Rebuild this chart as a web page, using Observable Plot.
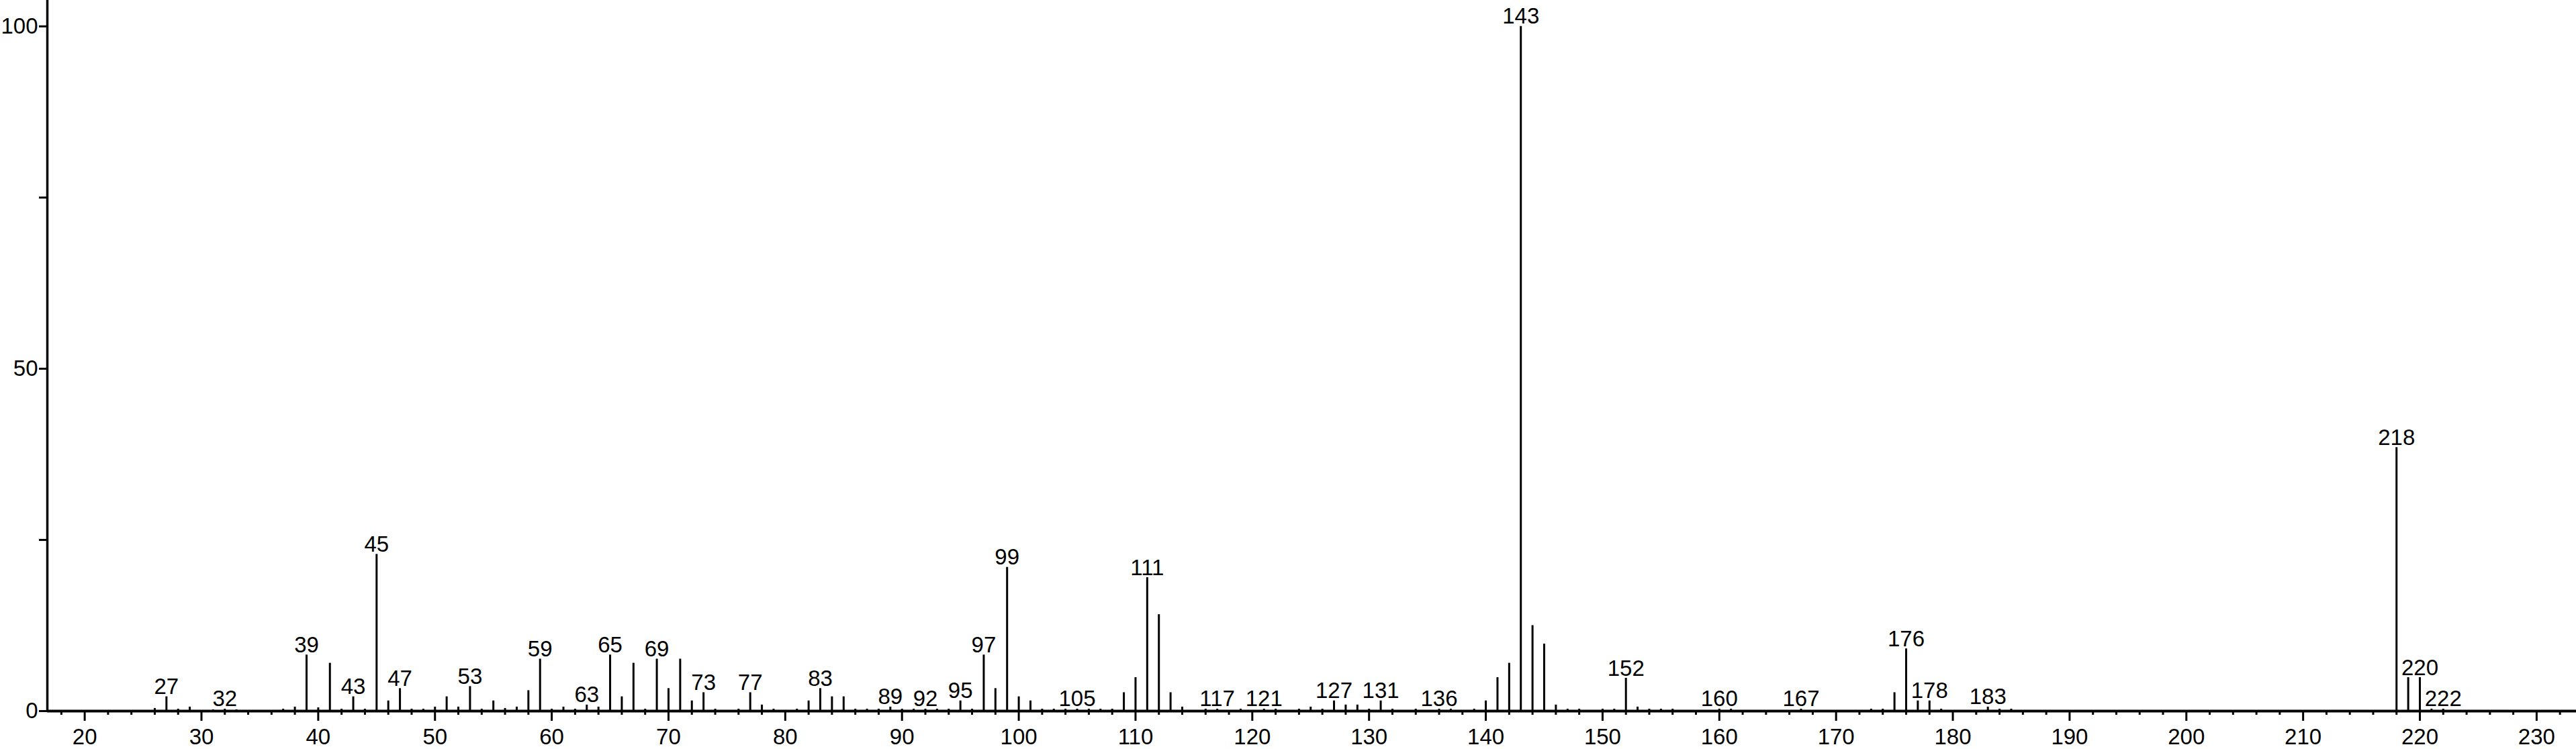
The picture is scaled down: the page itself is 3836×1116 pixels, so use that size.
<!DOCTYPE html>
<html>
<head>
<meta charset="utf-8">
<script src="https://cdn.jsdelivr.net/npm/d3@7"></script>
<script src="https://cdn.jsdelivr.net/npm/@observablehq/plot@0.6"></script>
<style>
  html, body { margin: 0; padding: 0; background: #fff; }
  #chart svg { display: block; }
</style>
</head>
<body>
<div id="chart"></div>
<script>
// m/z values and relative intensities (%)
const mz = [26,27,28,29,31,32,33,37,38,39,40,41,42,43,44,45,46,47,48,49,50,51,52,53,54,55,56,57,58,59,60,61,62,63,64,65,66,67,68,69,70,71,72,73,74,76,77,78,79,81,82,83,84,85,86,87,88,89,90,91,92,93,94,95,96,97,98,99,100,101,102,103,104,105,106,107,108,109,110,111,112,113,114,116,117,119,121,122,124,125,126,127,128,129,130,131,132,134,136,137,139,140,141,142,143,144,145,146,147,148,150,151,152,153,154,155,156,160,161,167,173,174,175,176,177,178,179,183,184,185,218,219,220,221,222];
const intensity = [0.4,2.1,0.3,0.6,0.2,0.3,0.2,0.3,0.6,8.2,0.5,7.0,0.3,2.1,0.3,22.9,1.5,3.3,0.3,0.3,0.6,2.1,0.6,3.6,0.3,1.5,0.4,0.6,3.0,7.6,0.3,0.6,0.3,0.9,0.6,8.2,2.1,7.0,0.3,7.6,3.3,7.6,1.5,2.7,0.3,0.3,2.7,0.9,0.3,0.3,1.5,3.3,2.1,2.1,0.3,0.3,0.3,0.6,0.3,0.3,0.3,0.3,0.3,1.5,0.3,8.2,3.3,21.0,2.1,1.5,0.3,0.3,0.3,0.3,0.3,0.3,0.3,2.7,4.9,19.5,14.1,2.7,0.6,0.3,0.3,0.3,0.3,0.3,0.3,0.6,0.3,1.5,0.9,0.9,0.3,1.5,0.3,0.3,0.3,0.3,0.3,1.5,4.9,7.0,100,12.5,9.8,0.9,0.3,0.3,0.3,0.3,4.8,0.6,0.3,0.3,0.3,0.3,0.3,0.3,0.3,0.3,2.7,9.1,1.5,1.5,0.3,0.6,0.3,0.3,38.5,4.9,4.9,0.3,0.3];
// peaks carrying an m/z annotation
const labeledMz = [27,32,39,43,45,47,53,59,63,65,69,73,77,83,89,92,95,97,99,105,111,117,121,127,131,136,143,152,160,167,176,178,183,218,220,222];
// axis ticks
const xMajorTicks = [20,30,40,50,60,70,80,90,100,110,120,130,140,150,160,170,180,190,200,210,220,230];
const xMinorTicks = [18,22,24,26,28,32,34,36,38,42,44,46,48,52,54,56,58,62,64,66,68,72,74,76,78,82,84,86,88,92,94,96,98,102,104,106,108,112,114,116,118,122,124,126,128,132,134,136,138,142,144,146,148,152,154,156,158,162,164,166,168,172,174,176,178,182,184,186,188,192,194,196,198,202,204,206,208,212,214,216,218,222,224,226,228,232];
const yMajorTicks = [0, 50, 100];
const yMinorTicks = [25, 75];

const peaks = mz.map((m, i) => ({mz: m, intensity: intensity[i]}));
const labeled = peaks.filter(d => labeledMz.includes(d.mz));

const xMin = 16.8, xMax = 233.4;
const font = "'Liberation Sans', Arial, Helvetica, sans-serif";

const chart = Plot.plot({
  width: 3836,
  height: 1116,
  marginLeft: 70,
  marginRight: 0,
  marginTop: 0,
  marginBottom: 57,
  style: {fontFamily: font, background: "#fff", color: "#000"},
  x: {domain: [xMin, xMax]},
  y: {domain: [0, 103.8]},
  marks: [
    // peaks
    Plot.ruleX(peaks, {x: "mz", y1: 0, y2: "intensity", stroke: "#000", strokeWidth: 3}),
    // minor x ticks
    Plot.axisX({ticks: xMinorTicks, tickSize: 6, text: null, strokeWidth: 3, label: null}),
    // major x ticks + labels
    Plot.axisX({ticks: xMajorTicks, tickSize: 15, tickPadding: 11, fontSize: 33, strokeWidth: 3, label: null, tickFormat: d => String(d)}),
    // y ticks
    Plot.axisY({ticks: yMinorTicks, tickSize: 12, text: null, strokeWidth: 3, label: null}),
    Plot.axisY({ticks: yMajorTicks, tickSize: 12, tickPadding: 2, fontSize: 33, strokeWidth: 3, label: null}),
    // axis lines
    Plot.ruleY([0], {x1: xMin, x2: xMax, stroke: "#000", strokeWidth: 4}),
    Plot.ruleX([xMin], {y1: 0, y2: 103.8, stroke: "#000", strokeWidth: 3.5}),
    // peak annotations
    Plot.text(labeled, {x: "mz", y: "intensity", text: d => String(d.mz), lineAnchor: "bottom", dy: -4, fontSize: 33, fill: "#000"})
  ]
});

document.getElementById("chart").appendChild(chart);
</script>
</body>
</html>
